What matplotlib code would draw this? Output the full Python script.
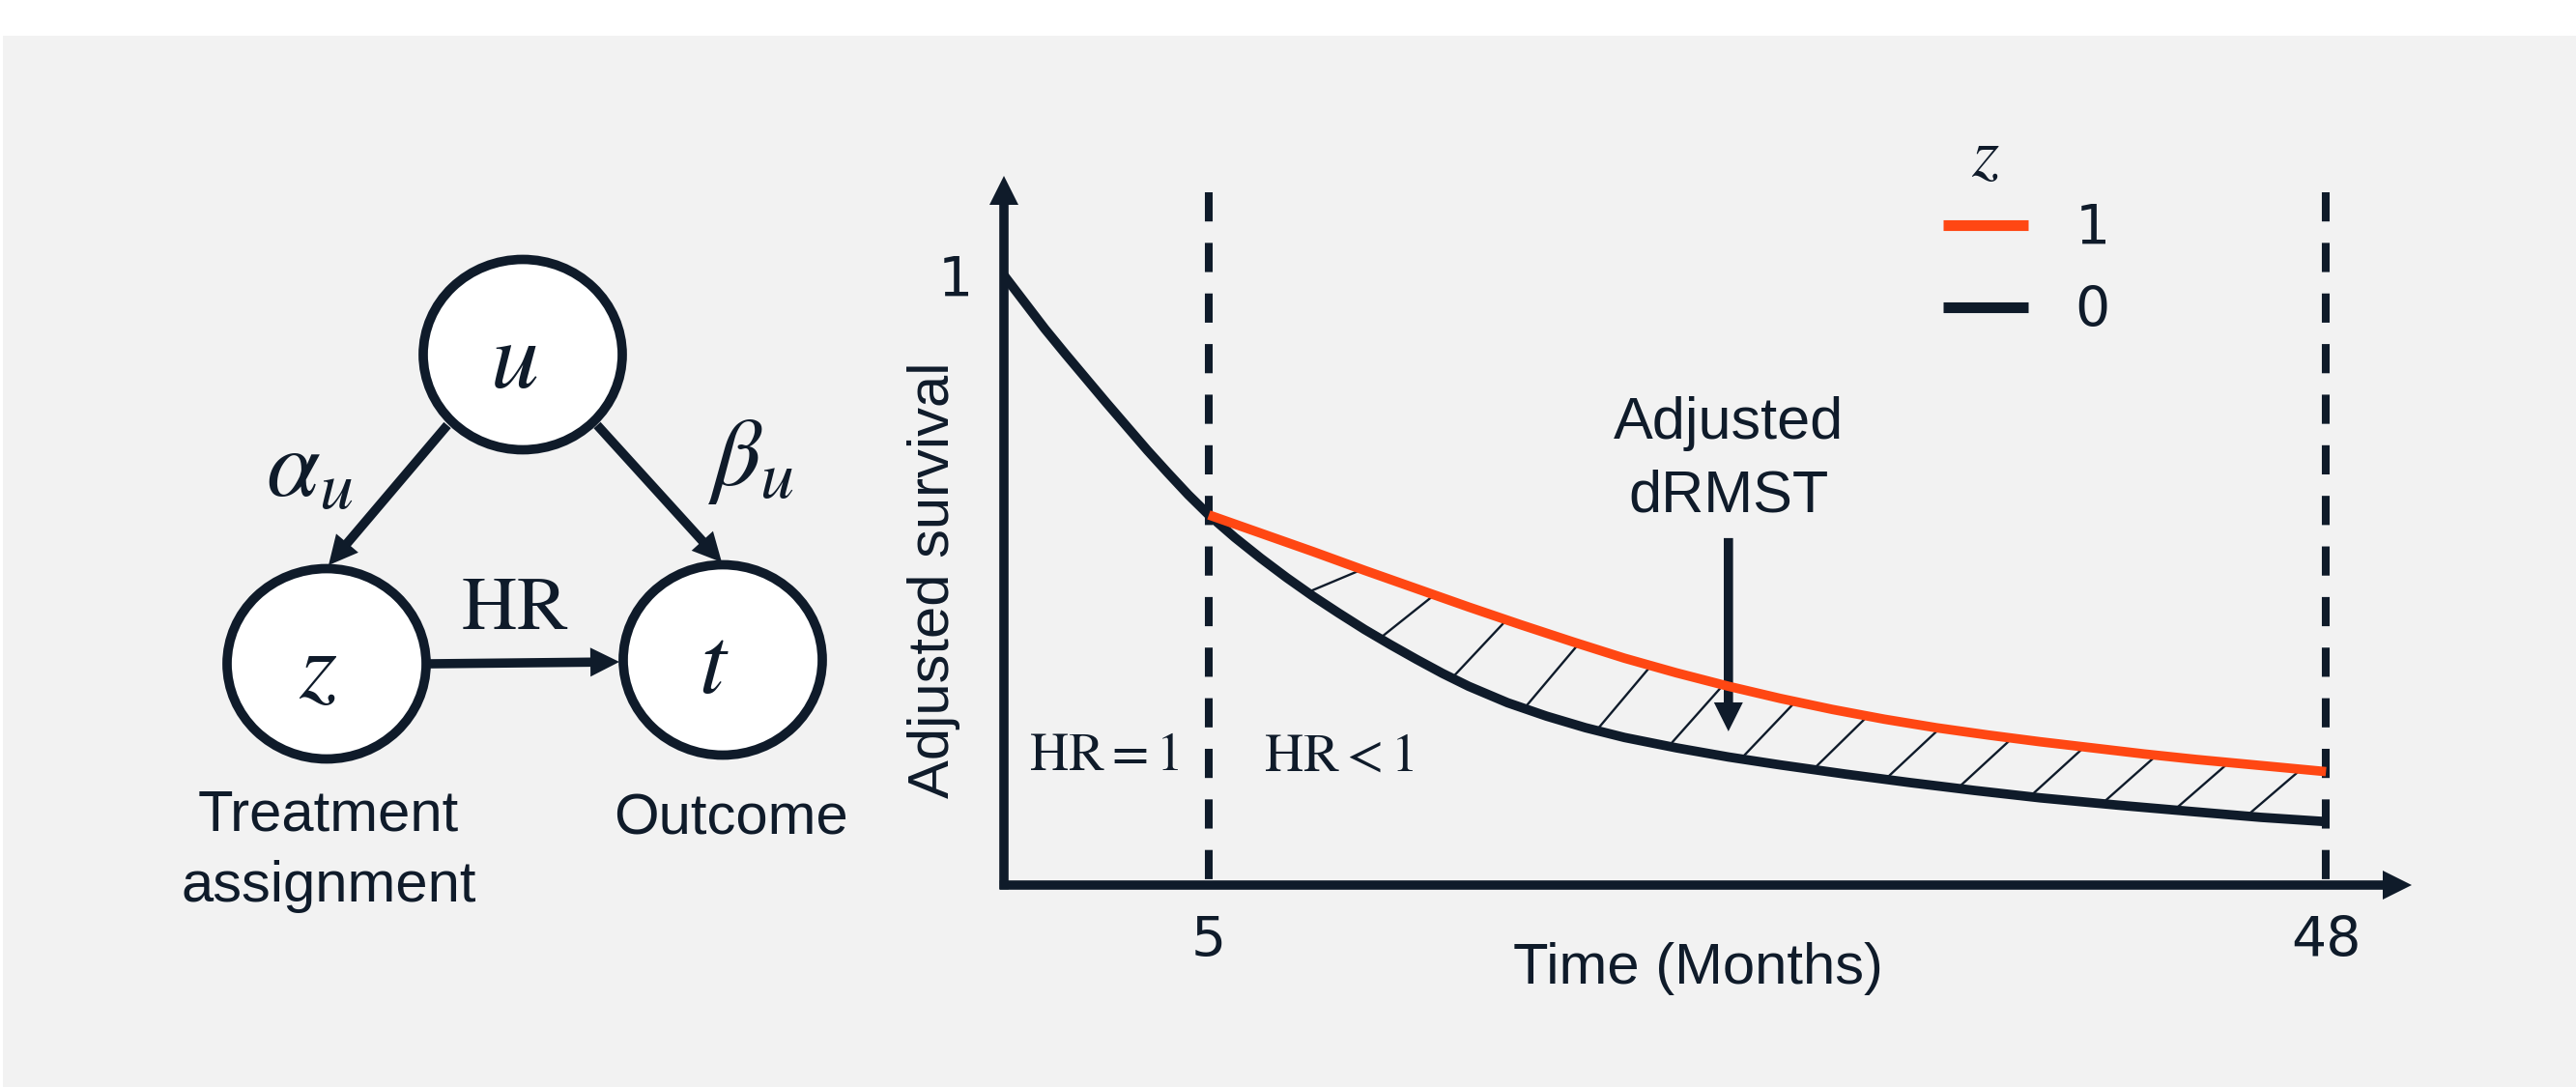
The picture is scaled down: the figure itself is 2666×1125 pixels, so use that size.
import numpy as np
import matplotlib.pyplot as plt
from matplotlib.patches import Ellipse, Rectangle

plt.rcParams['mathtext.fontset'] = 'stix'

# Adjusted survival curves by treatment arm, time in months
months_z0 = [0, 0.5, 1, 1.5, 2, 2.5, 3, 3.5, 4, 4.5, 5, 6, 7, 8, 9, 10, 11, 12, 13, 14, 15,
             16.5, 18, 19.5, 21, 23, 25, 27, 29.5, 32, 34.5, 37, 40, 43, 45.5, 48]
surv_z0 = [1.0, 0.956, 0.912, 0.871, 0.831, 0.791, 0.752, 0.713, 0.676, 0.640, 0.607, 0.57, 0.536,
           0.504, 0.474, 0.446, 0.419, 0.394, 0.37, 0.347, 0.326, 0.299, 0.277, 0.258, 0.242, 0.225,
           0.21, 0.197, 0.182, 0.168, 0.155, 0.143, 0.131, 0.12, 0.111, 0.104]
months_z1 = [5, 7, 9, 11, 13, 15, 17, 19, 21, 23, 25, 27, 29, 31, 33, 35, 37, 39, 41, 43, 45.5, 48]
surv_z1 = [0.607, 0.577, 0.547, 0.516, 0.486, 0.456, 0.427, 0.399, 0.372, 0.348, 0.326, 0.306,
           0.288, 0.272, 0.258, 0.246, 0.235, 0.225, 0.215, 0.206, 0.196, 0.186]

change_month = 5   # hazards split after this point
tau = 48           # RMST horizon
x_ticks = [5, 48]
y_ticks = [1]
arm_labels = ['1', '0']

ink = '#0f1b2a'
orange = '#ff4713'
panel = '#f2f2f2'
sans = 'Liberation Sans'
lw = 7

W, H = 2666, 1125
fig = plt.figure(figsize=(W / 100, H / 100), dpi=100)
fig.add_artist(Rectangle((3 / W, 0), 1, 1 - 37 / H, transform=fig.transFigure,
                         facecolor=panel, edgecolor='none', zorder=-5))

# ---- causal diagram (pixel units) ----
dag = fig.add_axes([0, 0, 1, 1])
dag.set_xlim(0, W)
dag.set_ylim(H, 0)
dag.axis('off')

arrow = dict(arrowstyle='simple,head_length=1.0,head_width=1.0,tail_width=0.32',
             mutation_scale=21.6, color=ink, lw=0, shrinkA=0, shrinkB=0)

nodes = {'u': (541, 367), 'z': (338, 687), 't': (748, 683)}
for name, (x, y) in nodes.items():
    dag.add_patch(Ellipse((x, y), 206, 197, facecolor='white', edgecolor=ink, lw=lw, zorder=3))
    dag.text(x - 9, y + 7, f'${name}$', fontsize=72, ha='center', va='center', color=ink, zorder=4)

edges = [((463, 440), (340, 585)), ((618, 440), (747, 582)), ((445, 687), (641, 685))]
for start, tip in edges:
    dag.annotate('', xy=tip, xytext=start, arrowprops=arrow, zorder=5)

dag.text(320, 486, r'$\alpha_u$', fontsize=72, ha='center', va='center', color=ink)
dag.text(777, 475, r'$\beta_u$', fontsize=72, ha='center', va='center', color=ink)
dag.text(533, 629, r'$\mathrm{HR}$', fontsize=57, ha='center', va='center', color=ink)
dag.text(340, 933, 'Treatment\nassignment', fontsize=43, family=sans, ha='center',
         va='baseline', linespacing=1.42, color=ink)
dag.text(756, 863, 'Outcome', fontsize=43, family=sans, ha='center', va='baseline', color=ink)

# ---- survival panel ----
ax = fig.add_axes([1039 / W, 1 - 916 / H, 1457 / W, 734 / H])
ax.set_facecolor('none')

early = 1.577  # the first months are drawn stretched


def fwd(m):
    m = np.asarray(m, dtype=float)
    return np.where(m < change_month, m * early, change_month * early + (m - change_month))


def inv(v):
    v = np.asarray(v, dtype=float)
    return np.where(v < change_month * early, v / early, v - change_month * early + change_month)


ax.set_xscale('function', functions=(fwd, inv))
ax.set_xlim(0, 51.3)
ax.set_ylim(0, 1.163)
for s in ax.spines.values():
    s.set_visible(False)

# dRMST area hatching between the arms
starts = np.arange(8.8, 45.5, 2.78)
lo = np.interp(starts, months_z0, surv_z0)
hi = np.interp(starts + 2.1, months_z1, surv_z1)
for x0, y0, y1 in zip(starts, lo, hi):
    ax.plot([x0, x0 + 2.1], [y0, y1], color=ink, lw=1.7, solid_capstyle='butt', zorder=2)

for xv in (change_month, tau):
    ax.plot([xv, xv], [1.136, 0], color=ink, lw=5.8, dashes=(3.75, 2.75), zorder=2)

black_line, = ax.plot(months_z0, surv_z0, color=ink, lw=lw, solid_capstyle='butt',
                      solid_joinstyle='round', zorder=3)
orange_line, = ax.plot(months_z1, surv_z1, color=orange, lw=lw, solid_capstyle='butt',
                       solid_joinstyle='round', zorder=4)

axis_arrow = dict(arrow, mutation_scale=21.6)
ax.annotate('', xy=(1, 0), xytext=(-0.003, 0), xycoords='axes fraction', arrowprops=axis_arrow)
ax.annotate('', xy=(0, 1), xytext=(0, -0.006), xycoords='axes fraction', arrowprops=axis_arrow)

ax.set_xticks(x_ticks, labels=[str(v) for v in x_ticks])
ax.set_yticks(y_ticks, labels=[str(v) for v in y_ticks])
ax.tick_params(length=0, labelsize=41, labelcolor=ink)
ax.tick_params(axis='x', pad=22)
ax.tick_params(axis='y', pad=23)

ax.set_ylabel('Adjusted survival', fontsize=43, family=sans, color=ink)
ax.yaxis.set_label_coords(-0.031, 0.4305)
ax.set_xlabel('Time (Months)', fontsize=43, family=sans, color=ink)
ax.xaxis.set_label_coords(0.493, -0.08)

ax.text(2.43, 0.212, r'$\mathrm{HR} = 1$', fontsize=40, ha='center', va='center', color=ink)
ax.text(10.0, 0.212, r'$\mathrm{HR} < 1$', fontsize=40, ha='center', va='center', color=ink)

ax.text(25, 0.612, 'Adjusted\ndRMST', fontsize=44, family=sans, ha='center', va='baseline',
        linespacing=1.42, color=ink)
ax.annotate('', xy=(25, 0.252), xytext=(25, 0.569), arrowprops=arrow)

leg = ax.legend([orange_line, black_line], arm_labels, loc='upper left', bbox_to_anchor=(0.667, 0.962),
                frameon=False, fontsize=41, handlelength=1.55, handletextpad=0.85,
                labelspacing=0.52, borderpad=0, borderaxespad=0)
for h in leg.get_lines():
    h.set_linewidth(8)
    h.set_solid_capstyle('butt')
for t in leg.get_texts():
    t.set_color(ink)
ax.text(0.697, 1.027, '$z$', transform=ax.transAxes, fontsize=52, ha='center', va='center', color=ink)

fig.savefig('out.png', dpi=100, facecolor='white')
